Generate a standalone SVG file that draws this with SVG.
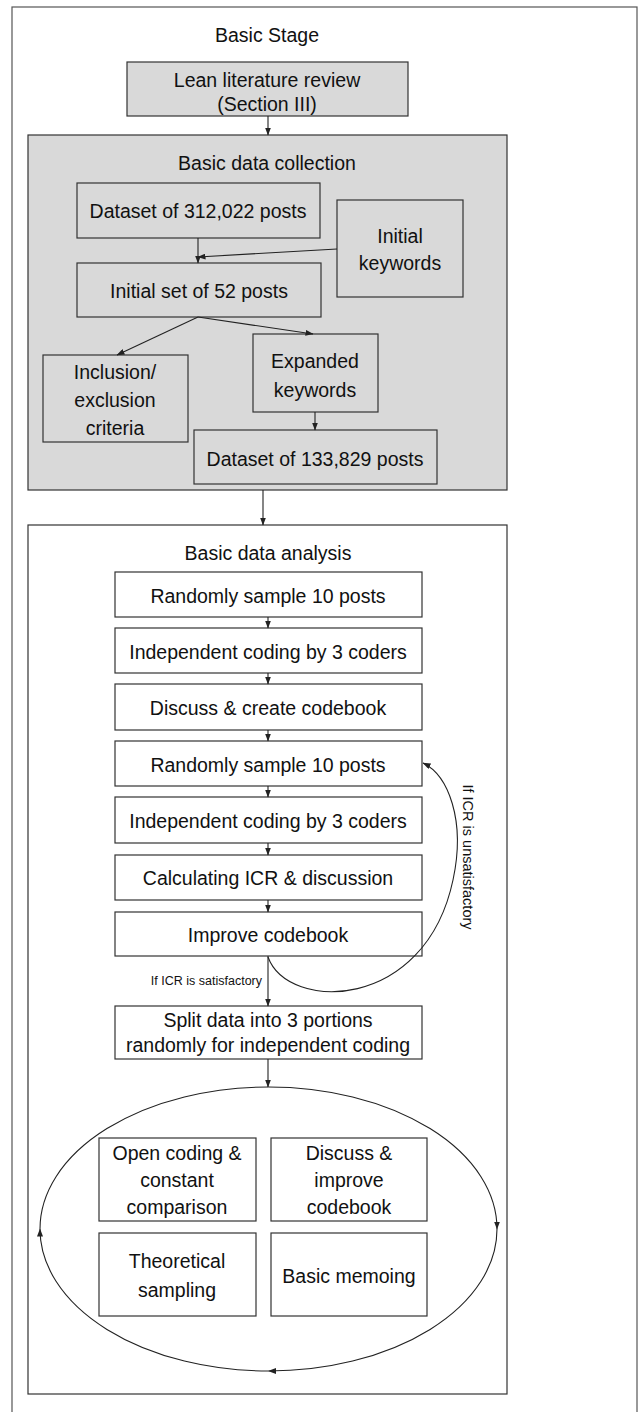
<svg xmlns="http://www.w3.org/2000/svg" width="639" height="1412" viewBox="0 0 639 1412">
<style>
text{font-family:"Liberation Sans",Arial,sans-serif;fill:#111;text-anchor:middle}
.t{font-size:19.5px}
.s{font-size:12.5px}
.box{fill:#fff;stroke:#333;stroke-width:1.2}
.gbox{fill:#d9d9d9;stroke:#333;stroke-width:1.2}
.c{fill:none;stroke:#222;stroke-width:1.1}
</style>
<defs>
<marker id="ah" markerWidth="8" markerHeight="6" refX="7.5" refY="3" orient="auto" markerUnits="userSpaceOnUse">
<path d="M0,0 L8,3 L0,6 z" fill="#222"/>
</marker>
</defs>
<rect width="639" height="1412" fill="#fff"/>
<rect x="12" y="7" width="625" height="1420" fill="none" stroke="#555" stroke-width="1.2"/>
<text class="t" x="267" y="42">Basic Stage</text>

<g id="lit"><rect class="gbox" x="127" y="62" width="281" height="54"/>
<text class="t" x="267" y="87">Lean literature review</text>
<text class="t" x="267" y="111">(Section III)</text></g>

<g id="collection"><rect class="gbox" x="28" y="135" width="479" height="355"/>
<text class="t" x="267" y="170">Basic data collection</text></g>

<g id="ds312"><rect class="gbox" x="77" y="183" width="243" height="55"/>
<text class="t" x="198" y="218">Dataset of 312,022 posts</text></g>

<g id="initkw"><rect class="gbox" x="337" y="200" width="126" height="97"/>
<text class="t" x="400" y="243">Initial</text>
<text class="t" x="400" y="270">keywords</text></g>

<g id="init52"><rect class="gbox" x="77" y="263" width="244" height="54"/>
<text class="t" x="199" y="298">Initial set of 52 posts</text></g>

<g id="expkw"><rect class="gbox" x="253" y="334" width="125" height="78"/>
<text class="t" x="315" y="368">Expanded</text>
<text class="t" x="315" y="397">keywords</text></g>

<g id="incl"><rect class="gbox" x="43" y="355" width="145" height="87"/>
<text class="t" x="115" y="379">Inclusion/</text>
<text class="t" x="115" y="407">exclusion</text>
<text class="t" x="115" y="435">criteria</text></g>

<g id="ds133"><rect class="gbox" x="194" y="430" width="243" height="54"/>
<text class="t" x="315" y="466">Dataset of 133,829 posts</text></g>

<g id="analysis"><rect class="box" x="28" y="525" width="479" height="869"/>
<text class="t" x="268" y="560">Basic data analysis</text></g>

<g id="a1"><rect class="box" x="115" y="572" width="307" height="45"/><text class="t" x="268" y="603">Randomly sample 10 posts</text></g>
<g id="a2"><rect class="box" x="115" y="628" width="307" height="45"/><text class="t" x="268" y="659">Independent coding by 3 coders</text></g>
<g id="a3"><rect class="box" x="115" y="684" width="307" height="46"/><text class="t" x="268" y="715">Discuss &amp; create codebook</text></g>
<g id="a4"><rect class="box" x="115" y="741" width="307" height="45"/><text class="t" x="268" y="772">Randomly sample 10 posts</text></g>
<g id="a5"><rect class="box" x="115" y="797" width="307" height="46"/><text class="t" x="268" y="828">Independent coding by 3 coders</text></g>
<g id="a6"><rect class="box" x="115" y="855" width="307" height="45"/><text class="t" x="268" y="885">Calculating ICR &amp; discussion</text></g>
<g id="a7"><rect class="box" x="115" y="912" width="307" height="44"/><text class="t" x="268" y="942">Improve codebook</text></g>
<g id="split"><rect class="box" x="115" y="1006" width="307" height="53"/>
<text class="t" x="268" y="1027">Split data into 3 portions</text>
<text class="t" x="268" y="1052">randomly for independent coding</text></g>

<g id="open"><rect class="box" x="99" y="1138" width="157" height="83"/>
<text class="t" x="177" y="1160">Open coding &amp;</text>
<text class="t" x="177" y="1187">constant</text>
<text class="t" x="177" y="1214">comparison</text></g>
<g id="discuss"><rect class="box" x="271" y="1138" width="156" height="83"/>
<text class="t" x="349" y="1160">Discuss &amp;</text>
<text class="t" x="349" y="1187">improve</text>
<text class="t" x="349" y="1214">codebook</text></g>
<g id="theo"><rect class="box" x="99" y="1233" width="157" height="83"/>
<text class="t" x="177" y="1268">Theoretical</text>
<text class="t" x="177" y="1297">sampling</text></g>
<g id="memo"><rect class="box" x="271" y="1233" width="156" height="83"/>
<text class="t" x="349" y="1283">Basic memoing</text></g>

<g id="connectors">
<path class="c" d="M268,116 V135" marker-end="url(#ah)"/>
<path class="c" d="M198,238 V263" marker-end="url(#ah)"/>
<path class="c" d="M337,249 L198,257" marker-end="url(#ah)"/>
<path class="c" d="M198,317 L117,355" marker-end="url(#ah)"/>
<path class="c" d="M198,317 L313,334" marker-end="url(#ah)"/>
<path class="c" d="M315,412 V430" marker-end="url(#ah)"/>
<path class="c" d="M263,490 V525" marker-end="url(#ah)"/>
<path class="c" d="M268,617 V628" marker-end="url(#ah)"/>
<path class="c" d="M268,673 V684" marker-end="url(#ah)"/>
<path class="c" d="M268,730 V741" marker-end="url(#ah)"/>
<path class="c" d="M268,786 V797" marker-end="url(#ah)"/>
<path class="c" d="M268,843 V855" marker-end="url(#ah)"/>
<path class="c" d="M268,900 V912" marker-end="url(#ah)"/>
<path class="c" d="M268,956 V1006" marker-end="url(#ah)"/>
<path class="c" d="M268,957 C288,1012 425,1012 453,880 C466,820 448,775 423,763" marker-end="url(#ah)"/>
<text class="s" x="262" y="985" style="text-anchor:end">If ICR is satisfactory</text>
<text transform="translate(463,857) rotate(90)" style="font-size:14.5px">If ICR is unsatisfactory</text>
<path class="c" d="M268,1059 V1087" marker-end="url(#ah)"/>
<path class="c" d="M268.5,1087 A228.5,142 0 0 1 497,1229" marker-end="url(#ah)"/>
<path class="c" d="M497,1229 A228.5,142 0 0 1 268.5,1371" marker-end="url(#ah)"/>
<path class="c" d="M268.5,1371 A228.5,142 0 0 1 40,1229" marker-end="url(#ah)"/>
<path class="c" d="M40,1229 A228.5,142 0 0 1 268.5,1087"/>
</g>
</svg>
